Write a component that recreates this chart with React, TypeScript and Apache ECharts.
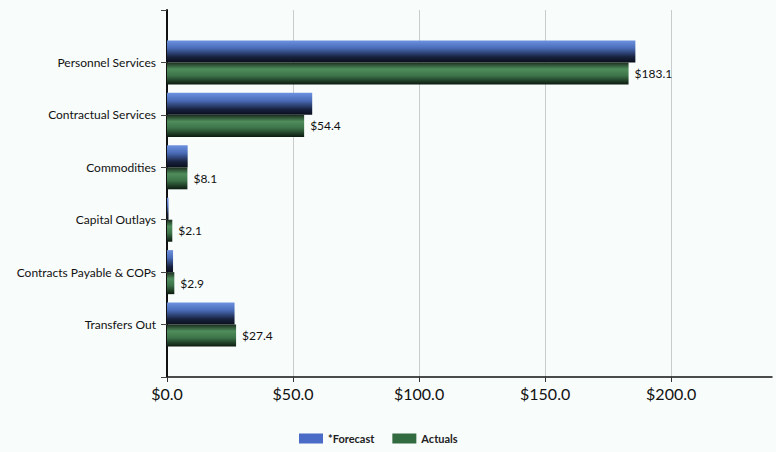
import React, { useEffect, useRef } from "react";
import * as echarts from "echarts";

const categories = ["", "Personnel Services", "Contractual Services", "Commodities", "Capital Outlays", "Contracts Payable & COPs", "Transfers Out", ""];
const forecast = [null, 185.8, 57.6, 8.2, 0.6, 2.4, 26.8, null];
const actuals = [null, 183.1, 54.4, 8.1, 2.1, 2.9, 27.4, null];
const xTicks = [0, 50, 100, 150, 200];

export default function App() {
  const ref = useRef<HTMLDivElement>(null);
  useEffect(() => {
    const chart = echarts.init(ref.current!, null, { renderer: "svg" });
    const blue = new echarts.graphic.LinearGradient(0, 0, 0, 1, [
      { offset: 0, color: "#6d92e0" },
      { offset: 0.35, color: "#4a6cb8" },
      { offset: 0.75, color: "#18223f" },
      { offset: 1, color: "#0a0f1c" },
    ]);
    const green = new echarts.graphic.LinearGradient(0, 0, 0, 1, [
      { offset: 0, color: "#1a2c1e" },
      { offset: 0.3, color: "#4f8d5c" },
      { offset: 0.6, color: "#3d7449" },
      { offset: 1, color: "#0c1a10" },
    ]);
    chart.setOption({
      animation: false,
      backgroundColor: "#f8fcfb",
      grid: { left: 167, top: 10, right: 4, bottom: 75, containLabel: false },
      legend: {
        bottom: 3,
        left: 294,
        itemWidth: 24,
        itemHeight: 10,
        itemGap: 18,
        textStyle: { fontFamily: "Lato", fontSize: 11, color: "#222", fontWeight: "bold" },
        data: [
          { name: "*Forecast", itemStyle: { color: "#4a6cc6" } },
          { name: "Actuals", itemStyle: { color: "#336b40" } },
        ],
        icon: "rect",
      },
      xAxis: {
        type: "value",
        min: 0,
        max: 240,
        interval: 50,
        axisLine: { show: true, lineStyle: { color: "#111", width: 1.5 } },
        axisTick: { show: true, length: 5, lineStyle: { color: "#333" } },
        axisLabel: {
          fontFamily: "Lato",
          fontSize: 16,
          color: "#111",
          margin: 8,
          showMaxLabel: false,
          formatter: (v: number) => (xTicks.includes(v) ? "$" + v.toFixed(1) : ""),
        },
        splitLine: { show: true, showMaxLine: false, lineStyle: { color: "#c8cccc", width: 1 } },
      },
      yAxis: {
        type: "category",
        data: categories,
        inverse: true,
        boundaryGap: false,
        axisLine: { show: true, lineStyle: { color: "#111", width: 2 } },
        axisTick: { show: true, length: 6, lineStyle: { color: "#444" } },
        axisLabel: { fontFamily: "Lato", fontSize: 12, color: "#111", margin: 11 },
        splitLine: { show: false },
      },
      series: [
        {
          name: "*Forecast",
          type: "bar",
          data: forecast,
          barGap: "0%",
          barCategoryGap: "16%",
          itemStyle: { color: blue },
        },
        {
          name: "Actuals",
          type: "bar",
          data: actuals,
          itemStyle: { color: green },
          label: {
            show: true,
            position: "right",
            distance: 6,
            fontFamily: "Lato",
            fontSize: 12,
            color: "#111",
            formatter: (p: any) => "$" + Number(p.value).toFixed(1),
          },
        },
      ],
    });
    return () => chart.dispose();
  }, []);
  return <div ref={ref} style={{ position: "fixed", left: 0, top: 0, width: 776, height: 452 }} />;
}
